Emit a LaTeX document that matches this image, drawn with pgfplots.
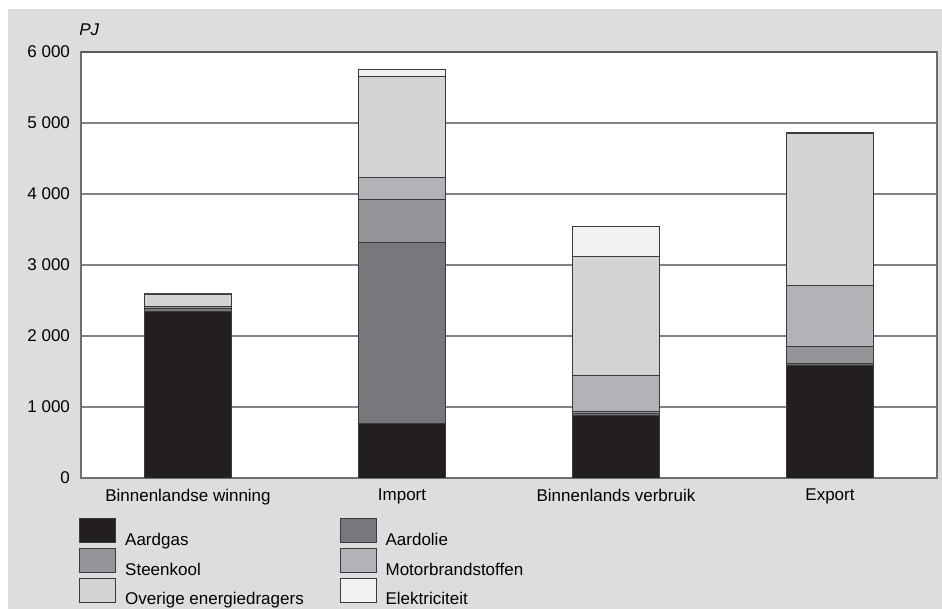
\documentclass[border=0pt]{standalone}
\usepackage{pgfplots}
\pgfplotsset{compat=1.18}
\usepackage{fontspec}
\setmainfont{Liberation Sans}
\definecolor{bg}{HTML}{DCDDDF}
\definecolor{cgas}{HTML}{231F20}
\definecolor{colie}{HTML}{77787B}
\definecolor{ckool}{HTML}{939598}
\definecolor{cmotor}{HTML}{B1B3B6}
\definecolor{cover}{HTML}{D1D3D4}
\definecolor{celek}{HTML}{F1F1F2}
\definecolor{cedge}{HTML}{3A3A3C}
\definecolor{cgrid}{HTML}{808285}
\definecolor{cframe}{HTML}{6D6E71}
\begin{document}
\fontsize{8.5}{10}\selectfont
\begin{tikzpicture}
\useasboundingbox (0,0) rectangle (471pt,304.5pt);
\fill[bg] (4pt,0) rectangle (471pt,300pt);
\begin{axis}[
  name=ax,
  at={(40.5pt,65.5pt)}, anchor=south west,
  width=428pt, height=213pt, scale only axis,
  ybar stacked, bar width=43.5pt,
  xmin=-0.5, xmax=3.5, ymin=0, ymax=6000,
  xtick={0,1,2,3},
  xticklabels={Binnenlandse winning,Import,Binnenlands verbruik,Export},
  ytick={0,1000,2000,3000,4000,5000,6000},
  yticklabels={0,1 000,2 000,3 000,4 000,5 000,6 000},
  major tick length=0pt,
  ymajorgrids,
  grid style={cgrid, line width=0.6pt},
  axis line style={cframe, line width=0.6pt},
  axis background/.style={fill=white},
  tick label style={font=\fontsize{8.5}{10}\selectfont, text=black},
  yticklabel style={xshift=-2.5pt},
  xticklabel style={yshift=-2.5pt},
  every axis plot/.append style={draw=cedge, line width=0.4pt},
  legend image code/.code={\draw[#1, draw=cedge, line width=0.4pt] (0pt,-1.2pt) rectangle (18pt,10.8pt);},
  legend columns=2,
  legend cell align=left,
  legend style={at={(0,0)}, anchor=north west, xshift=-1pt, yshift=-20pt,
    draw=none, fill=none, inner sep=0pt, row sep=-1.8pt,
    font=\fontsize{8.5}{10}\selectfont,
    /tikz/every odd column/.append style={column sep=2.5pt},
    /tikz/every even column/.append style={column sep=16pt}},
]
\addplot[fill=cgas] coordinates {(0,2346) (1,770) (2,887) (3,1592)};
\addlegendentry{Aardgas}
\addplot[fill=colie] coordinates {(0,42) (1,2550) (2,20) (3,25)};
\addlegendentry{Aardolie}
\addplot[fill=ckool] coordinates {(0,25) (1,610) (2,37) (3,242)};
\addlegendentry{Steenkool}
\addplot[fill=cmotor] coordinates {(0,0) (1,305) (2,507) (3,859)};
\addlegendentry{Motorbrandstoffen}
\addplot[fill=cover] coordinates {(0,179) (1,1427) (2,1666) (3,2137)};
\addlegendentry{Overige energiedragers}
\addplot[fill=celek] coordinates {(0,5) (1,99) (2,423) (3,15)};
\addlegendentry{Elektriciteit}
\end{axis}
\draw[cframe!80!black, line width=1pt] (ax.north west) -- (ax.north east);
\node[anchor=base west, inner sep=0pt, font=\fontsize{8.5}{10}\selectfont\itshape] at ([xshift=-1pt,yshift=8pt]ax.north west) {PJ};
\end{tikzpicture}
\end{document}
